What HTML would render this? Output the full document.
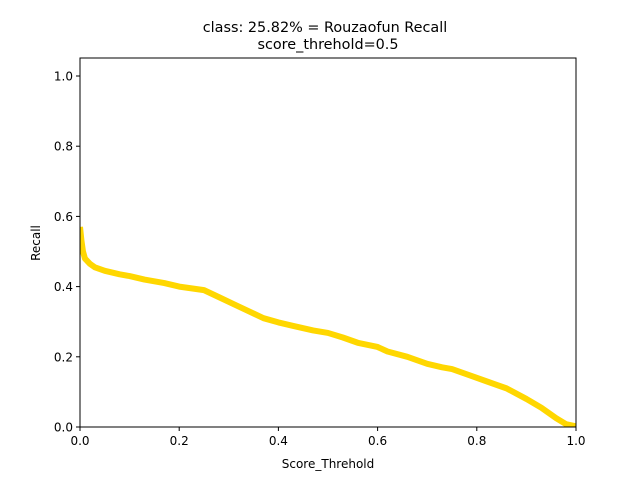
<!DOCTYPE html>
<html><head><meta charset="utf-8"><style>
body{margin:0;background:#fff}
svg text{font-family:"DejaVu Sans","Liberation Sans",sans-serif;fill:#000}
</style></head><body>
<svg width="640" height="480" viewBox="0 0 640 480">
<defs><clipPath id="clip"><rect x="80" y="58" width="496" height="369"/></clipPath></defs>
<rect width="640" height="480" fill="#fff"/>
<text x="325" y="32" font-size="14.4" text-anchor="middle">class: 25.82% = Rouzaofun Recall</text>
<text x="328" y="49" font-size="14.4" text-anchor="middle">score_threhold=0.5</text>
<g id="plot" clip-path="url(#clip)"></g>
<rect x="80" y="58" width="496" height="369" fill="none" stroke="#000" stroke-width="1"/>
<g id="ticks"></g>
<text x="328" y="468" font-size="12" text-anchor="middle">Score_Threhold</text>
<text x="40" y="243" font-size="12" text-anchor="middle" transform="rotate(-90 40 243)">Recall</text>
</svg>
<script>
const xs=[0,0.003,0.006,0.01,0.02,0.03,0.05,0.08,0.1,0.13,0.17,0.2,0.25,0.28,0.31,0.34,0.37,0.4,0.43,0.47,0.5,0.53,0.56,0.6,0.62,0.66,0.7,0.73,0.75,0.78,0.82,0.86,0.9,0.93,0.96,0.98,1.0];
const recall=[0.57,0.53,0.5,0.48,0.465,0.455,0.445,0.435,0.43,0.42,0.41,0.4,0.39,0.37,0.35,0.33,0.31,0.298,0.288,0.275,0.268,0.255,0.24,0.228,0.215,0.2,0.18,0.17,0.165,0.15,0.13,0.11,0.08,0.055,0.025,0.008,0.002];
const xTicks=[0,0.2,0.4,0.6,0.8,1.0];
const yTicks=[0,0.2,0.4,0.6,0.8,1.0];
const X0=80,X1=576,Y0=427,YMAX=1.0513,H=369;
const sx=v=>X0+v*(X1-X0);
const sy=v=>Y0-v/YMAX*H;
const NS="http://www.w3.org/2000/svg";
const plot=document.getElementById('plot');
const line=document.createElementNS(NS,'polyline');


line.setAttribute('points',xs.map((x,i)=>sx(x)+','+sy(recall[i])).join(' '));
line.setAttribute('fill','none');line.setAttribute('stroke','#FFD700');line.setAttribute('stroke-width','6');line.setAttribute('stroke-linejoin','round');
plot.appendChild(line);
const tk=document.getElementById('ticks');
xTicks.forEach(t=>{
 const l=document.createElementNS(NS,'line');
 
 
 l.setAttribute('x1',sx(t));l.setAttribute('x2',sx(t));l.setAttribute('y1',Y0);l.setAttribute('y2',Y0+4);l.setAttribute('stroke','#000');
 tk.appendChild(l);
 const tx=document.createElementNS(NS,'text');
 
 
 tx.setAttribute('x',sx(t));tx.setAttribute('y',Y0+18);tx.setAttribute('font-size','12');tx.setAttribute('text-anchor','middle');
 tx.textContent=t.toFixed(1);tk.appendChild(tx);
});
yTicks.forEach(t=>{
 const l=document.createElementNS(NS,'line');
 
 
 l.setAttribute('x1',X0-4);l.setAttribute('x2',X0);l.setAttribute('y1',sy(t));l.setAttribute('y2',sy(t));l.setAttribute('stroke','#000');
 tk.appendChild(l);
 const tx=document.createElementNS(NS,'text');
 
 
 tx.setAttribute('x',X0-7);tx.setAttribute('y',sy(t)+4.5);tx.setAttribute('font-size','12');tx.setAttribute('text-anchor','end');
 tx.textContent=t.toFixed(1);tk.appendChild(tx);
});
</script>
</body></html>
